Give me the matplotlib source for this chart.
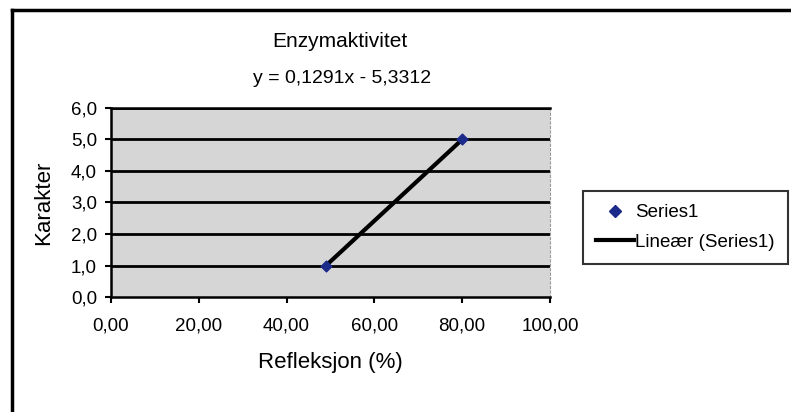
import numpy as np
import matplotlib.pyplot as plt
from matplotlib.lines import Line2D

plt.rcParams['font.family'] = ['Liberation Sans', 'DejaVu Sans']

# Data
refleksjon = [49.0, 80.0]
karakter = [1.0, 5.0]
x_ticks = [0, 20, 40, 60, 80, 100]
y_ticks = [0, 1, 2, 3, 4, 5, 6]

fig = plt.figure(figsize=(7.91, 4.12), dpi=100)
ax = fig.add_axes([0.1403, 0.2791, 0.555, 0.4588])
ax.set_facecolor('#d6d6d6')

# gridlines
for yv in y_ticks[1:]:
    ax.axhline(yv, color='black', linewidth=2, zorder=1)

# linear trendline
k, m = np.polyfit(refleksjon, karakter, 1)
xl = np.array([min(refleksjon), max(refleksjon)])
ax.plot(xl, k * xl + m, color='black', linewidth=3, zorder=2)
ax.scatter(refleksjon, karakter, marker='D', s=30, color='#1c2a8a', zorder=3)

ax.set_xlim(0, 100)
ax.set_ylim(0, 6)
ax.set_xticks(x_ticks)
ax.set_yticks(y_ticks)
ax.set_xticklabels([f"{v:.2f}".replace('.', ',') for v in x_ticks], fontsize=13.5)
ax.set_yticklabels([f"{v:.1f}".replace('.', ',') for v in y_ticks], fontsize=13.5)
ax.tick_params(direction='out', length=4, width=1.5, pad=11, colors='black')
ax.tick_params(axis='y', pad=6)

for side in ['left', 'bottom', 'top']:
    ax.spines[side].set_linewidth(1.8)
ax.spines['right'].set_color('#999999')
ax.spines['right'].set_linestyle((0, (2, 2)))

ax.set_xlabel("Refleksjon (%)", fontsize=16, labelpad=12)
ax.set_ylabel("Karakter", fontsize=16, labelpad=12)

fig.text(0.43, 0.90, "Enzymaktivitet", fontsize=15, ha='center', va='center')
fig.text(0.432, 0.81, "y = 0,1291x - 5,3312", fontsize=14, ha='center', va='center')

handles = [
    Line2D([], [], marker='D', linestyle='none', markersize=6, color='#1c2a8a'),
    Line2D([], [], color='black', linewidth=3),
]
leg = fig.legend(handles, ["Series1", "Lineær (Series1)"], loc='center left',
                 bbox_to_anchor=(0.737, 0.448), fontsize=13.5, frameon=True,
                 fancybox=False, edgecolor='black', handlelength=2.0,
                 borderpad=0.7, borderaxespad=0, labelspacing=0.65,
                 handletextpad=0.1)
leg.get_frame().set_linewidth(1.5)

# outer chart frame
fig.add_artist(Line2D([0.015, 1.0], [0.976, 0.976], color='black', linewidth=2.5,
                      transform=fig.transFigure))
fig.add_artist(Line2D([0.015, 0.015], [0.0, 0.976], color='black', linewidth=2.5,
                      transform=fig.transFigure))

fig.savefig("out.png", dpi=100)
